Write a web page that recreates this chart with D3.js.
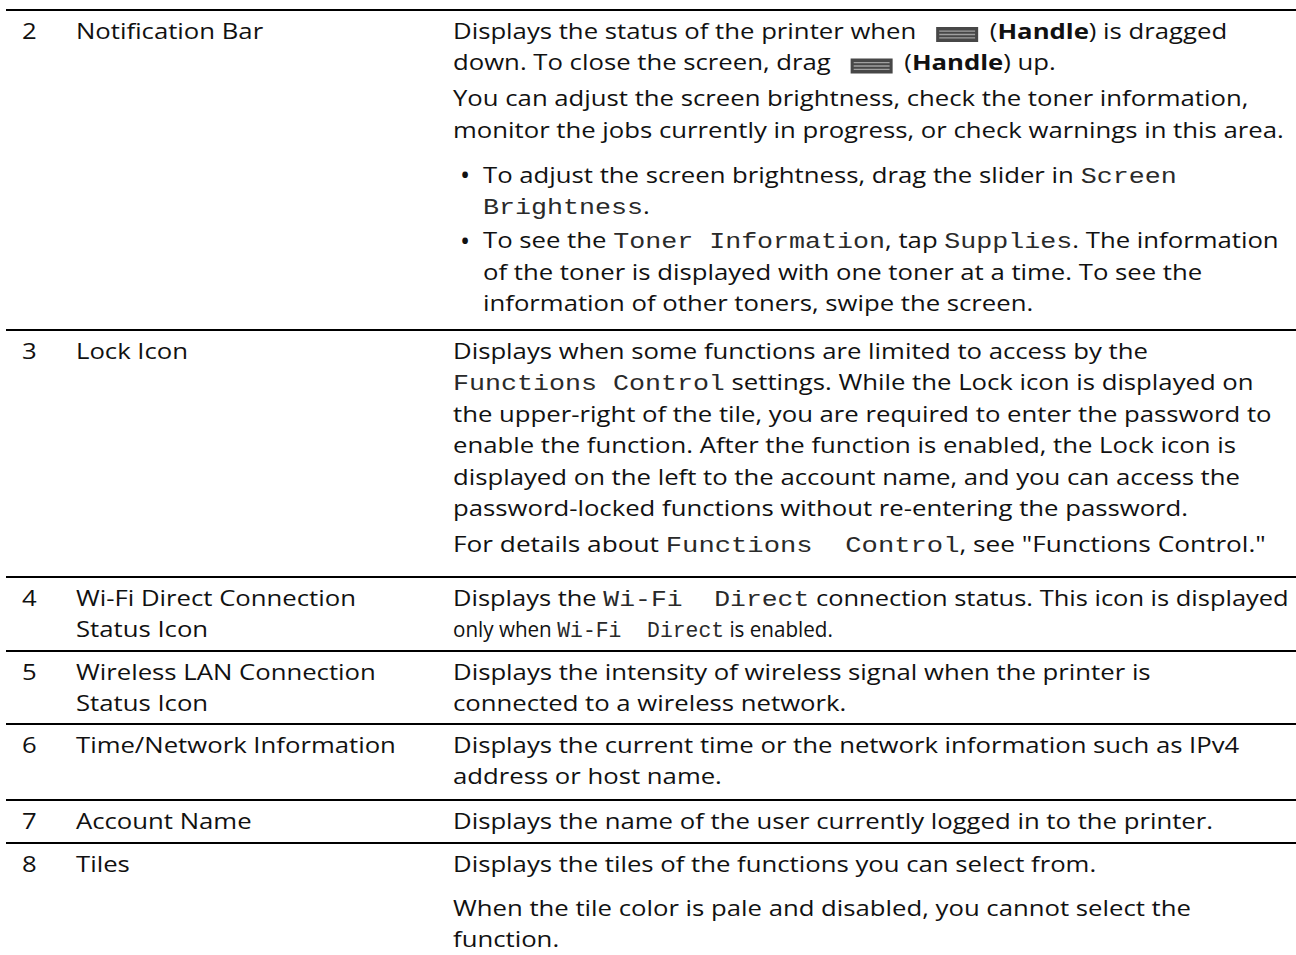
<!DOCTYPE html>
<html><head><meta charset="utf-8">
<script src="https://cdn.jsdelivr.net/npm/d3@7"></script>
<style>
body{margin:0;background:#fff;}
svg text{white-space:pre;}
</style></head>
<body>
<svg id="c" width="1296" height="955"></svg>
<script>
// ---------- DATA ----------
const itemNumbers = ["2", "3", "4", "5", "6", "7", "8"];
const itemNames = [
  ["Notification Bar"],
  ["Lock Icon"],
  ["Wi-Fi Direct Connection", "Status Icon"],
  ["Wireless LAN Connection", "Status Icon"],
  ["Time/Network Information"],
  ["Account Name"],
  ["Tiles"]
];
// markup: **bold**, `mono`, [H] = Handle icon
const itemDescriptions = [
  [
    {type: "p", lines: ["Displays the status of the printer when [H] (**Handle**) is dragged",
                        "down. To close the screen, drag [H] (**Handle**) up."]},
    {type: "p", lines: ["You can adjust the screen brightness, check the toner information,",
                        "monitor the jobs currently in progress, or check warnings in this area."]},
    {type: "li", lines: ["To adjust the screen brightness, drag the slider in `Screen`",
                         "`Brightness`."]},
    {type: "li", lines: ["To see the `Toner Information`, tap `Supplies`. The information",
                         "of the toner is displayed with one toner at a time. To see the",
                         "information of other toners, swipe the screen."]}
  ],
  [
    {type: "p", lines: ["Displays when some functions are limited to access by the",
                        "`Functions Control` settings. While the Lock icon is displayed on",
                        "the upper-right of the tile, you are required to enter the password to",
                        "enable the function. After the function is enabled, the Lock icon is",
                        "displayed on the left to the account name, and you can access the",
                        "password-locked functions without re-entering the password."]},
    {type: "p", lines: ["For details about `Functions  Control`, see \"Functions Control.\""]}
  ],
  [
    {type: "p", lines: ["Displays the `Wi-Fi  Direct` connection status. This icon is displayed",
                        "only when `Wi-Fi  Direct` is enabled."]}
  ],
  [
    {type: "p", lines: ["Displays the intensity of wireless signal when the printer is",
                        "connected to a wireless network."]}
  ],
  [
    {type: "p", lines: ["Displays the current time or the network information such as IPv4",
                        "address or host name."]}
  ],
  [
    {type: "p", lines: ["Displays the name of the user currently logged in to the printer."]}
  ],
  [
    {type: "p", lines: ["Displays the tiles of the functions you can select from."]},
    {type: "p", lines: ["When the tile color is pale and disabled, you cannot select the",
                        "function."]}
  ]
];

// ---------- LAYOUT ----------
const W = 1296, H = 955;
const colX = {num: 22, name: 76, desc: 453, bullet: 460, item: 483};
const ruleX0 = 6, ruleX1 = 1296;
const firstRuleY = 10;
const padTop = 29, lineStep = 31.5;
// baseline distance before each block (first block uses padTop)
const blockGaps = [[0, 36, 45, 34], [0, 36], [0], [0], [0], [0], [0, 44]];
// distance from last baseline to the following rule
const rowBottomPad = [18.5, 24.5, 13.5, 12.5, 15.5, 14, 0];
const bodyFont = "'Open Sans', sans-serif", monoFont = "'Liberation Mono', monospace";
const bodySize = 21, bulletSize = 27;
const monoPitch = 16;            // px per mono character after scaling
const textColor = "#111";
const ICON = {w: 42, h: 15, ml: 13, mr: 5, rise: 12};
// calibration line: this line spans 831px in the original
const calib = {r: 0, b: 1, i: 1, width: 831};
// lines rendered condensed in the original (row, block, line) -> exact width
const fitted = {"1-1-0": 813, "2-0-0": 836, "2-0-1": 380};

const svg = d3.select("#c");
svg.append("rect").attr("width", W).attr("height", H).attr("fill", "#fff");
const root = svg.append("g");

function parse(str) {
  return str.split(/(\*\*[^*]+\*\*|`[^`]+`|\[H\])/).filter(s => s.length).map(s => {
    if (s === "[H]") return {type: "icon"};
    if (s.startsWith("**")) return {type: "bold", text: s.slice(2, -2)};
    if (s.startsWith("`")) return {type: "mono", text: s.slice(1, -1)};
    return {type: "text", text: s};
  });
}

let SX = 1, monoSize = 22;

function styleText(t, type) {
  t.attr("xml:space", "preserve").attr("fill", textColor);
  if (type === "mono") t.attr("font-family", monoFont).attr("font-size", monoSize).attr("fill", "#2a2a2a");
  else t.attr("font-family", bodyFont).attr("font-size", bodySize).attr("font-weight", type === "bold" ? 700 : 400);
}

// measure natural width of calibration line to get horizontal scale
(function calibrate() {
  const probe = root.append("text");
  styleText(probe, "text");
  probe.text(itemDescriptions[calib.r][calib.b].lines[calib.i]);
  SX = calib.width / probe.node().getComputedTextLength();
  probe.remove();
  monoSize = monoPitch / (0.6 * SX);
})();

function drawIcon(g, x, y, w) {
  const ig = g.append("g").attr("transform", `translate(${x},${y - ICON.rise})`);
  ig.append("rect").attr("width", w).attr("height", ICON.h).attr("fill", "#474747");
  [0.27, 0.5, 0.73].forEach(f => {
    ig.append("line").attr("x1", 2.5).attr("x2", w - 2.5)
      .attr("y1", ICON.h * f).attr("y2", ICON.h * f)
      .attr("stroke", "#a0a0a0").attr("stroke-width", 1.3);
  });
}

function renderLine(g, x, y, str, fitW) {
  const lg = g.append("g");
  let cx = 0;
  parse(str).forEach(seg => {
    if (seg.type === "icon") {
      cx += ICON.ml / SX;
      drawIcon(lg, x + cx, y, ICON.w / SX);
      cx += (ICON.w + ICON.mr) / SX;
    } else {
      const t = lg.append("text").attr("x", x + cx).attr("y", y).text(seg.text);
      styleText(t, seg.type);
      cx += t.node().getComputedTextLength();
    }
  });
  const s = fitW ? fitW / cx : SX;
  lg.attr("transform", `translate(${x},0) scale(${s},1) translate(${-x},0)`);
}

function drawBullet(g, y) {
  g.append("text").attr("x", colX.bullet).attr("y", y + 2).text("•")
    .attr("font-family", bodyFont).attr("font-size", bulletSize).attr("fill", textColor);
}

function drawRule(y) {
  root.append("line").attr("x1", ruleX0).attr("x2", ruleX1).attr("y1", y).attr("y2", y)
    .attr("stroke", "#000").attr("stroke-width", 2.2);
}

let ruleY = firstRuleY;
drawRule(ruleY);
itemNumbers.forEach((num, r) => {
  const g = root.append("g");
  const y0 = ruleY + padTop;
  renderLine(g, colX.num, y0, num);
  itemNames[r].forEach((nm, i) => renderLine(g, colX.name, y0 + i * lineStep, nm));
  let y = y0;
  itemDescriptions[r].forEach((blk, b) => {
    if (b > 0) y += blockGaps[r][b];
    blk.lines.forEach((ln, i) => {
      if (i > 0) y += lineStep;
      const x = blk.type === "li" ? colX.item : colX.desc;
      if (blk.type === "li" && i === 0) drawBullet(g, y);
      renderLine(g, x, y, ln, fitted[`${r}-${b}-${i}`]);
    });
  });
  const nameBottom = y0 + (itemNames[r].length - 1) * lineStep;
  ruleY = Math.max(y, nameBottom) + rowBottomPad[r];
  if (r < itemNumbers.length - 1) drawRule(ruleY);
});
</script>
</body></html>
